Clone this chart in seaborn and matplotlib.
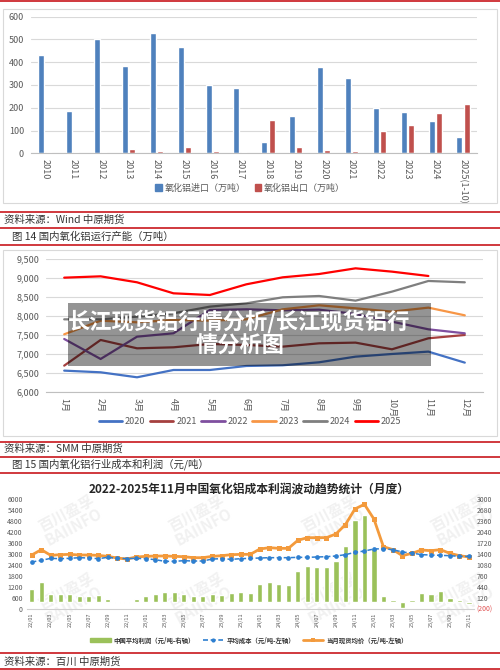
import matplotlib
matplotlib.use('Agg')
import numpy as np
import pandas as pd
import seaborn as sns
import matplotlib.pyplot as plt
from matplotlib.patches import Rectangle, Patch
from matplotlib.lines import Line2D
import matplotlib.ticker as mticker

# ---------------- data ----------------
years1 = ['2010', '2011', '2012', '2013', '2014', '2015', '2016', '2017',
          '2018', '2019', '2020', '2021', '2022', '2023', '2024', '2025(1-10)']
imports1 = [430, 187, 500, 383, 527, 465, 302, 285, 50, 164, 381, 332, 199, 183, 142, 73]
exports1 = [6, 6, 4, 18, 10, 29, 9, 5, 146, 26, 16, 12, 100, 126, 177, 217]
series1 = ['氧化铝进口（万吨）', '氧化铝出口（万吨）']

months2 = ['1月', '2月', '3月', '4月', '5月', '6月', '7月', '8月', '9月', '10月', '11月', '12月']
cap2020 = [6569, 6525, 6394, 6586, 6586, 6691, 6709, 6788, 6936, 7006, 7068, 6779]
cap2021 = [6700, 7374, 7155, 7181, 7269, 7243, 7199, 7286, 7304, 7129, 7418, 7505]
cap2022 = [7400, 6875, 7461, 7549, 8161, 8179, 8153, 8170, 8056, 7855, 7654, 7549]
cap2023 = [7523, 7880, 7838, 7900, 7881, 7916, 8179, 8284, 8205, 8118, 8223, 8021]
cap2024 = [7916, 7916, 7986, 8074, 8249, 8336, 8494, 8529, 8406, 8643, 8923, 8888]
cap2025 = [9010, 9045, 8888, 8599, 8555, 8835, 9019, 9106, 9255, 9168, 9054]
years2 = ['2020', '2021', '2022', '2023', '2024', '2025']

periods3 = ['22/01', '22/02', '22/03', '22/04', '22/05', '22/06', '22/07', '22/08', '22/09', '22/10', '22/11', '22/12',
            '23/01', '23/02', '23/03', '23/04', '23/05', '23/06', '23/07', '23/08', '23/09', '23/10', '23/11', '23/12',
            '24/01', '24/02', '24/03', '24/04', '24/05', '24/06', '24/07', '24/08', '24/09', '24/10', '24/11', '24/12',
            '25/01', '25/02', '25/03', '25/04', '25/05', '25/06', '25/07', '25/08', '25/09', '25/10', '25/11']
profit3 = [385, 590, 230, 240, 240, 160, 170, 190, 90, -30, -30, 80, 160, 220, 280, 280, 220, 160, 170, 230,
           190, 250, 290, 250, 520, 570, 510, 480, 890, 1060, 1030, 1030, 1195, 1640, 2395, 2540, 1575, 160,
           45, -180, 40, 260, 240, 310, 120, 40, -50]
cost3 = [2560, 2652, 2762, 2743, 2762, 2798, 2780, 2743, 2817, 2762, 2750, 2760, 2743, 2688, 2597, 2597,
         2634, 2615, 2615, 2725, 2743, 2707, 2743, 2762, 2780, 2798, 2798, 2798, 2817, 2817, 2835, 2853,
         2890, 2963, 3091, 3164, 3274, 3292, 3237, 3109, 3055, 2963, 2945, 2926, 2908, 2871, 2871]
price3 = [2945, 3237, 2926, 2963, 2981, 2945, 2945, 2926, 2871, 2780, 2725, 2835, 2871, 2890, 2890, 2871,
          2853, 2798, 2798, 2871, 2908, 2963, 2981, 2981, 3274, 3347, 3310, 3310, 3750, 3896, 3896, 3896,
          4097, 4609, 5469, 5725, 4920, 3402, 3237, 2908, 3036, 3219, 3183, 3237, 3036, 2908, 2835]
series3 = ['中国平均利润（元/吨-右轴）', '平均成本（元/吨-左轴）', '当月现货均价（元/吨-左轴）']

# ---------------- setup ----------------
W, H = 500, 670
sns.set_theme(style='white')
plt.rcParams['font.family'] = ['Noto Sans CJK SC', 'DejaVu Sans']
plt.rcParams['axes.unicode_minus'] = False

fig = plt.figure(figsize=(W / 100, H / 100), dpi=100)
fig.patch.set_facecolor('white')

def fx(x):
    return x / W

def fy(y):
    return 1 - y / H

def add_ax(l, t, r, b):
    return fig.add_axes([l / W, 1 - b / H, (r - l) / W, (b - t) / H])

TXT = '#595959'
GRID = '#d9d9d9'
RED = '#c8161d'

# frame lines and captions
for yy in [0.8, 212, 227.5, 245, 441.7, 457, 472.7, 653, 669.2]:
    fig.add_artist(Line2D([0, 1], [fy(yy), fy(yy)], color=RED, lw=1.2, transform=fig.transFigure))
for (l, t, r, b) in [(3, 9, 497, 203), (3, 250, 497, 436)]:
    fig.add_artist(Rectangle((fx(l), fy(b)), (r - l) / W, (b - t) / H, transform=fig.transFigure,
                             fill=False, edgecolor=GRID, lw=0.8))
cap_kw = dict(fontsize=7.5, color='#333333', va='center', ha='left')
fig.text(fx(4), fy(220), '资料来源：Wind 中原期货', **cap_kw)
fig.text(fx(12), fy(236.5), '图 14 国内氧化铝运行产能（万吨）', **cap_kw)
fig.text(fx(4), fy(449), '资料来源：SMM 中原期货', **cap_kw)
fig.text(fx(12), fy(464.5), '图 15 国内氧化铝行业成本和利润（元/吨）', **cap_kw)
fig.text(fx(4), fy(661.5), '资料来源：百川 中原期货', **cap_kw)

# ---------------- chart 1 ----------------
c_blue, c_red = '#4f81bd', '#c0504d'
ax1 = add_ax(31, 16.7, 477, 153.3)
df1 = pd.DataFrame({'year': years1 * 2, 'value': imports1 + exports1,
                    'series': [series1[0]] * len(years1) + [series1[1]] * len(years1)})
sns.barplot(data=df1, x='year', y='value', hue='series', palette=[c_blue, c_red],
            width=0.52, gap=0.18, saturation=1, legend=False, ax=ax1)
ax1.set_ylim(0, 600)
ax1.set_xlim(-0.5, len(years1) - 0.5)
ax1.set_yticks(np.arange(0, 601, 100))
ax1.yaxis.grid(True, color=GRID, lw=0.8)
ax1.set_axisbelow(True)
for s in ['left', 'right', 'top']:
    ax1.spines[s].set_visible(False)
ax1.spines['bottom'].set_color('#bfbfbf')
ax1.spines['bottom'].set_linewidth(0.8)
ax1.tick_params(axis='y', length=0, labelsize=6.5, labelcolor=TXT, pad=5)
ax1.tick_params(axis='x', length=0, labelsize=6.5, labelcolor=TXT, pad=4)
for lab in ax1.get_xticklabels():
    lab.set_rotation(-90)
    lab.set_va('top')
    lab.set_ha('center')
ax1.set_xlabel('')
ax1.set_ylabel('')
fig.legend(handles=[Patch(color=c_blue, label=series1[0]), Patch(color=c_red, label=series1[1])],
           loc='center', bbox_to_anchor=(fx(250), fy(188)), ncol=2, frameon=False,
           fontsize=6.5, labelcolor=TXT, handlelength=0.7, handleheight=0.7, handletextpad=0.3,
           columnspacing=1.0)

# ---------------- chart 2 ----------------
pal2 = {'2020': '#4472c4', '2021': '#a5403f', '2022': '#7f4f9f',
        '2023': '#f79646', '2024': '#7f7f7f', '2025': '#ff0000'}
caps = [cap2020, cap2021, cap2022, cap2023, cap2024, cap2025]
rows = []
for yr, vals in zip(years2, caps):
    for i, v in enumerate(vals):
        rows.append((yr, i, v))
df2 = pd.DataFrame(rows, columns=['year', 'm', 'v'])
ax2 = add_ax(46, 259, 483, 392.3)
sns.lineplot(data=df2, x='m', y='v', hue='year', palette=pal2, lw=1.6, legend=False,
             sort=False, ax=ax2)
ax2.set_ylim(6000, 9500)
ax2.set_xlim(-0.5, 11.5)
ax2.set_yticks(np.arange(6000, 9501, 500))
ax2.yaxis.set_major_formatter(mticker.FuncFormatter(lambda v, p: f'{int(v):,}'))
ax2.set_xticks(range(12))
ax2.set_xticklabels(months2, rotation=-90, va='top', ha='center')
ax2.set_xticks(np.arange(-0.5, 12, 1), minor=True)
ax2.yaxis.grid(True, color=GRID, lw=0.8)
ax2.set_axisbelow(True)
for s in ['left', 'right', 'top']:
    ax2.spines[s].set_visible(False)
ax2.spines['bottom'].set_color('#bfbfbf')
ax2.spines['bottom'].set_linewidth(0.8)
ax2.tick_params(axis='y', length=0, labelsize=6.5, labelcolor=TXT, pad=5)
ax2.tick_params(axis='x', which='major', length=0, labelsize=6.5, labelcolor=TXT, pad=4)
ax2.tick_params(axis='x', which='minor', length=9, width=0.8, color=GRID, direction='out')
ax2.set_xlabel('')
ax2.set_ylabel('')
fig.legend(handles=[Line2D([], [], color=pal2[y], lw=2, label=y) for y in years2],
           loc='center', bbox_to_anchor=(fx(250), fy(421.7)), ncol=6, frameon=False,
           fontsize=6.5, labelcolor=TXT, handlelength=2.6, handletextpad=0.3, columnspacing=0.5)

# ---------------- chart 3 ----------------
c_green, c_cost, c_price = '#9bc15a', '#2e7fd0', '#f39a3c'
fig.text(fx(249), fy(489), '2022-2025年11月中国氧化铝成本利润波动趋势统计（月度）',
         fontsize=8.5, fontweight='bold', color='#262626', ha='center', va='center')
axL = add_ax(27, 499.3, 473.7, 608.7)
axR = axL.twinx()
xs = np.arange(len(periods3))
sns.barplot(x=xs, y=profit3, color=c_green, saturation=1, width=0.55, ax=axR)
df3 = pd.DataFrame({'x': xs, 'cost': cost3, 'price': price3})
sns.lineplot(data=df3, x='x', y='price', color=c_price, lw=2, marker='s', markersize=3.6,
             markeredgewidth=0, ax=axL)
sns.lineplot(data=df3, x='x', y='cost', color=c_cost, lw=1.1, dashes=False, marker='o',
             markersize=3.4, markeredgewidth=0, ax=axL)
axL.lines[-1].set_linestyle((0, (3, 1.6)))
axL.set_zorder(axR.get_zorder() + 1)
axL.patch.set_visible(False)
axL.set_xlim(-0.5, len(periods3) - 0.5)
axL.set_ylim(0, 6000)
axR.set_ylim(-200, 3000)
axL.set_yticks(np.arange(0, 6001, 600))
axR.set_yticks(np.arange(-200, 3001, 320))
axR.yaxis.set_major_formatter(mticker.FuncFormatter(
    lambda v, p: f'({abs(int(round(v)))})' if v < 0 else f'{int(round(v))}'))
axL.set_xticks(xs[::2])
axL.set_xticklabels(periods3[::2], rotation=90, va='top', ha='center')
for a in (axL, axR):
    for s in ['left', 'right', 'top', 'bottom']:
        a.spines[s].set_visible(False)
axL.spines['bottom'].set_visible(True)
axL.spines['bottom'].set_color('#d0d0d0')
axL.spines['bottom'].set_linewidth(0.8)
axL.tick_params(axis='y', length=0, labelsize=5, labelcolor=TXT, pad=3)
axR.tick_params(axis='y', length=0, labelsize=5, labelcolor=TXT, pad=2)
axL.tick_params(axis='x', length=0, labelsize=4, labelcolor=TXT, pad=3)
for lab in axR.get_yticklabels():
    if lab.get_text().startswith('('):
        lab.set_color('#e05050')
for a in (axL, axR):
    a.set_xlabel('')
    a.set_ylabel('')
    a.grid(False)
# watermarks
for cx in [70, 200, 333, 462]:
    for cy in [520, 598]:
        axR.text(fx(cx), fy(cy), '百川盈孚\nBAIINFO', transform=fig.transFigure, rotation=28,
                 fontsize=11, fontweight='bold', color='#f1f1f1', ha='center', va='center',
                 multialignment='center', linespacing=1.0, zorder=0.1, clip_on=False)
fig.legend(handles=[Patch(color=c_green, label=series3[0]),
                    Line2D([], [], color=c_cost, lw=1.2, ls=(0, (3, 1.6)), marker='o', markersize=3,
                           markeredgewidth=0, label=series3[1]),
                    Line2D([], [], color=c_price, lw=2, marker='s', markersize=3.2,
                           markeredgewidth=0, label=series3[2])],
           loc='center', bbox_to_anchor=(fx(249), fy(640)), ncol=3, frameon=False,
           prop={'size': 4.6, 'weight': 'bold'}, labelcolor='#333333',
           handlelength=3.2, handleheight=0.5, handletextpad=0.5, columnspacing=1.2)

# ---------------- overlay banner ----------------
fig.add_artist(Rectangle((fx(68), fy(366)), (431 - 68) / W, (366 - 303) / H,
                         transform=fig.transFigure, facecolor='black', alpha=0.42,
                         edgecolor='none', zorder=10))
fig.text(fx(239.5), fy(322), '长江现货铝行情分析/长江现货铝行', color='white', fontsize=16,
         fontweight='bold', ha='center', va='center', zorder=11)
fig.text(fx(240), fy(346), '情分析图', color='white', fontsize=16,
         fontweight='bold', ha='center', va='center', zorder=11)

fig.savefig('out.png', dpi=100, facecolor='white')
